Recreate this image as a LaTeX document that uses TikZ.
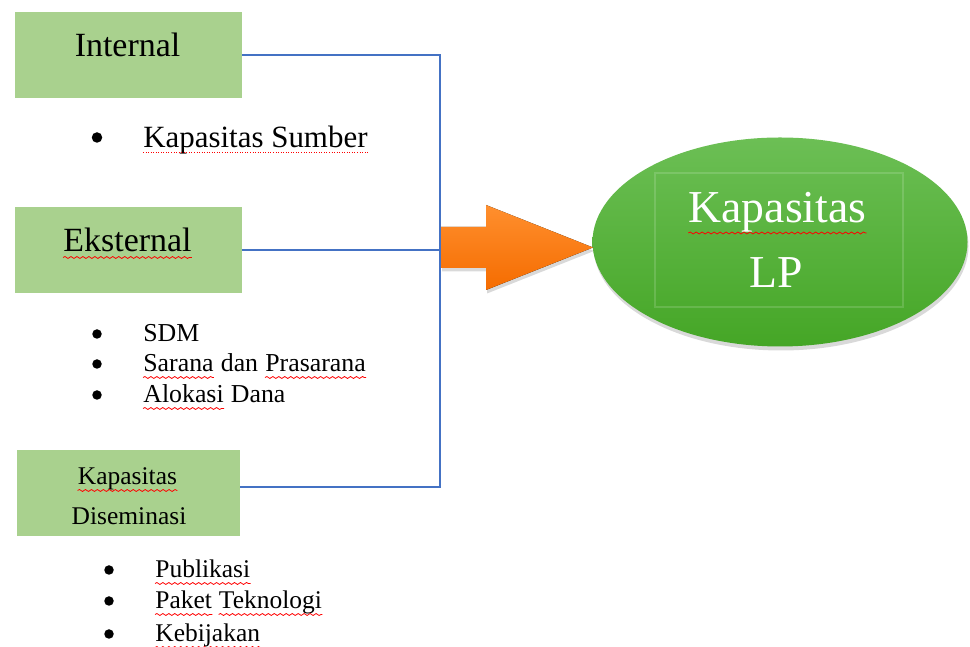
\documentclass[tikz,border=0pt]{standalone}
\usepackage{fontspec}
\setmainfont{Liberation Serif}
\usetikzlibrary{positioning, shapes.geometric, shadows, decorations.pathmorphing}
\definecolor{boxCol}{HTML}{A9D18E}
\definecolor{linkCol}{HTML}{4472C4}
\definecolor{arrowTop}{HTML}{FF8F2E}
\definecolor{arrowBot}{HTML}{F56C00}
\definecolor{lpTop}{HTML}{6CBF55}
\definecolor{lpBot}{HTML}{45A626}

\begin{document}
\begin{tikzpicture}[
    % Node styles
    greenbox/.style={
        rectangle,
        fill=boxCol,
        minimum width=4.54cm,
        minimum height=1.72cm,
        inner sep=0pt
    },
    boxlabel/.style={
        anchor=base,
        inner sep=0pt,
        font=\fontsize{19.3}{23}\selectfont
    },
    smalllabel/.style={
        anchor=base,
        inner sep=0pt,
        font=\fontsize{14.5}{18}\selectfont
    },
    itemtext/.style={
        anchor=base west,
        inner sep=0pt,
        font=\fontsize{#1}{18}\selectfont
    },
    itemdot/.style={
        circle,
        fill=black,
        inner sep=0pt,
        minimum size=0.19cm
    },
    link/.style={
        draw=linkCol,
        line width=0.9pt
    },
    typo/.style={
        draw=red,
        line width=0.45pt,
        decorate,
        decoration={snake, amplitude=0.55pt, segment length=3.4pt}
    },
    bigarrow/.style={
        top color=arrowTop,
        bottom color=arrowBot,
        drop shadow={opacity=0.3, shadow xshift=0.02cm, shadow yshift=-0.07cm}
    },
    lpnode/.style={
        ellipse,
        top color=lpTop,
        bottom color=lpBot,
        minimum width=7.5cm,
        minimum height=4.18cm,
        drop shadow={opacity=0.3, shadow xshift=0.02cm, shadow yshift=-0.08cm}
    },
    lplabel/.style={
        anchor=base,
        inner sep=0pt,
        text=white,
        font=\fontsize{26}{30}\selectfont
    }
]
    \useasboundingbox (0, 0) rectangle (19.40, 12.94);

    % ==== LEFT BOXES ====
    \node[greenbox] (internal) at (2.57, 11.84) {};
    \node[boxlabel] (internalT) at (2.55, 11.80) {Internal};

    \node[greenbox] (eksternal) at (2.57, 7.94) {};
    \node[boxlabel] (eksternalT) at (2.55, 7.90) {Eksternal};

    \node[greenbox, minimum width=4.46cm] (disem) at (2.57, 3.08) {};
    \node[smalllabel] (disemA) at (2.55, 3.24) {Kapasitas};
    \node[smalllabel] (disemB) at (2.58, 2.44) {Diseminasi};

    % ==== BULLET LISTS ====
    \node[itemdot, minimum size=0.21cm] (dot1) at (1.94, 10.19) {};
    \node[itemtext=17.6] (item1) at (2.86, 9.98) {Kapasitas Sumber};

    \node[itemdot] (dot2) at (1.94, 6.26) {};
    \node[itemtext=14.7] (item2) at (2.86, 6.10) {SDM};
    \node[itemdot] (dot3) at (1.94, 5.66) {};
    \node[itemtext=14.7] (item3) at (2.86, 5.50) {Sarana};
    \node[itemtext=14.7] (item3b) at ([xshift=3.7pt]item3.base east) {dan};
    \node[itemtext=14.7] (item3c) at ([xshift=3.7pt]item3b.base east) {Prasarana};
    \node[itemdot] (dot4) at (1.94, 5.04) {};
    \node[itemtext=14.7] (item4) at (2.86, 4.88) {Alokasi};
    \node[itemtext=14.7] (item4b) at ([xshift=3.7pt]item4.base east) {Dana};

    \node[itemdot] (dot5) at (2.18, 1.54) {};
    \node[itemtext=14.5] (item5) at (3.10, 1.38) {Publikasi};
    \node[itemdot] (dot6) at (2.18, 0.92) {};
    \node[itemtext=14.5] (item6) at (3.10, 0.76) {Paket};
    \node[itemtext=14.5] (item6b) at ([xshift=3.6pt]item6.base east) {Teknologi};
    \node[itemdot] (dot7) at (2.18, 0.26) {};
    \node[itemtext=14.5] (item7) at (3.10, 0.10) {Kebijakan};

    % Spell-check underlines
    \draw[typo, densely dotted, decorate=false] ([yshift=-0.09cm]item1.base west) -- ([yshift=-0.09cm]item1.base east);
    \foreach \w in {eksternalT, disemA, item3, item3c, item4, item5, item6, item6b, item7}
        \draw[typo] ([yshift=-0.11cm]\w.base west) -- ([yshift=-0.11cm]\w.base east);

    % ==== CONNECTORS ====
    \coordinate (bus) at (8.80, 7.94);
    \draw[link] (internal.east) -| (bus) |- ([yshift=0.12cm]disem.east);
    \draw[link] (eksternal.east) -- (eksternal.east -| bus);

    % ==== KAPASITAS LP ====
    \node[lpnode] (lp) at (15.60, 8.10) {};
    \node[draw=white, draw opacity=0.15, line width=0.6pt, minimum width=4.96cm, minimum height=2.68cm] (lpframe) at (15.58, 8.14) {};
    \node[lplabel] (lpA) at (15.55, 8.48) {Kapasitas};
    \node[lplabel] (lpB) at (15.52, 7.18) {LP};
    \draw[typo] ([yshift=-0.2cm]lpA.base west) -- ([yshift=-0.2cm]lpA.base east);

    % Big arrow into the ellipse
    \coordinate (arrowtail) at (8.82, 7.99);
    \fill[bigarrow] (arrowtail) ++(0, 0.41) -- ++(0.90, 0) -- ++(0, 0.44) -- ++(2.14, -0.85)
        -- ++(-2.14, -0.85) -- ++(0, 0.44) -- ++(-0.90, 0) -- cycle;

\end{tikzpicture}
\end{document}
